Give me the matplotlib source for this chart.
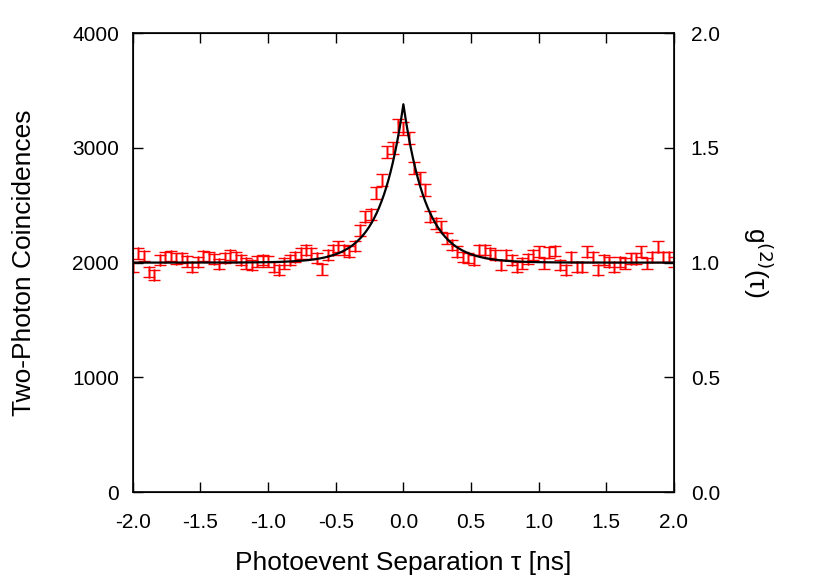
import matplotlib
matplotlib.use("Agg")
import matplotlib.pyplot as plt
import numpy as np

plt.rcParams['font.family'] = ['Liberation Sans', 'DejaVu Sans']
plt.rcParams['axes.unicode_minus'] = False

# Photoevent separation grid [ns]
tau = np.linspace(-2.0, 2.0, 101)

# Two-photon coincidence counts
counts = [
    1960, 2080, 2060, 1920, 1890, 2022, 2050, 2057, 2035, 2040,
    2010, 1963, 2005, 2057, 2050, 2030, 1990, 2040, 2065, 2050,
    2022, 1993, 1980, 2010, 2020, 2010, 1963, 1935, 1993, 2020,
    2050, 2080, 2108, 2080, 2040, 1940, 2065, 2109, 2138, 2109,
    2095, 2144, 2283, 2400, 2420, 2605, 2719, 2966, 2998, 3198,
    3172, 3085, 2824, 2740, 2632, 2400, 2344, 2312, 2213, 2153,
    2095, 2050, 2040, 2020, 2109, 2109, 2083, 2065, 1978, 2065,
    2022, 1963, 1993, 2030, 2065, 2095, 1993, 2090, 2100, 1980,
    1935, 2050, 1963, 1963, 2095, 2050, 1935, 2022, 2005, 1963,
    2005, 1993, 2035, 2035, 2095, 1993, 2050, 2138, 2050, 2050,
    2004,
]

x_ticks = [-2.0, -1.5, -1.0, -0.5, 0.0, 0.5, 1.0, 1.5, 2.0]
y_ticks = [0, 1000, 2000, 3000, 4000]
g2_ticks = [0.0, 0.5, 1.0, 1.5, 2.0]

# Fit parameters: g2(tau) = 1 + A exp(-|tau| / t0), scaled by the baseline
baseline = 2000.0
amp = 0.69
t0 = 0.17

counts = np.array(counts, dtype=float)
errors = np.sqrt(counts)

fig = plt.figure(figsize=(8.3, 5.81), dpi=100)
ax = fig.add_axes([0.160, 0.153, 0.652, 0.790])

ax.errorbar(tau, counts, yerr=errors, xerr=0.0, fmt='none', ecolor='red',
            elinewidth=1.0, capsize=4, capthick=1.0, zorder=2)

t_fit = np.linspace(-2.0, 2.0, 2001)
ax.plot(t_fit, baseline * (1 + amp * np.exp(-np.abs(t_fit) / t0)),
        color='black', lw=1.6, zorder=3)

ax.set_xlim(-2.0, 2.0)
ax.set_ylim(0, 4000)
ax.set_xticks(x_ticks)
ax.set_xticklabels([f"{v:.1f}" for v in x_ticks])
ax.set_yticks(y_ticks)
ax.tick_params(axis='both', direction='in', length=7, width=1.0,
               labelsize=15, pad=15, top=True)
ax.tick_params(axis='y', right=False, pad=10)
for s in ax.spines.values():
    s.set_linewidth(1.2)

ax.set_xlabel("Photoevent Separation \u03c4 [ns]", fontsize=19, labelpad=14)
ax.set_ylabel("Two-Photon Coincidences", fontsize=19, labelpad=26)

ax2 = ax.twinx()
ax2.set_ylim(0, 2.0)
ax2.set_yticks(g2_ticks)
ax2.set_yticklabels([f"{v:.1f}" for v in g2_ticks])
ax2.tick_params(axis='y', direction='in', length=7, width=1.0,
                labelsize=15, pad=12)
ax2.set_ylabel("g$^{(2)}$(\u03c4)", fontsize=19, rotation=270, labelpad=39)

fig.savefig("out.png", dpi=100)
